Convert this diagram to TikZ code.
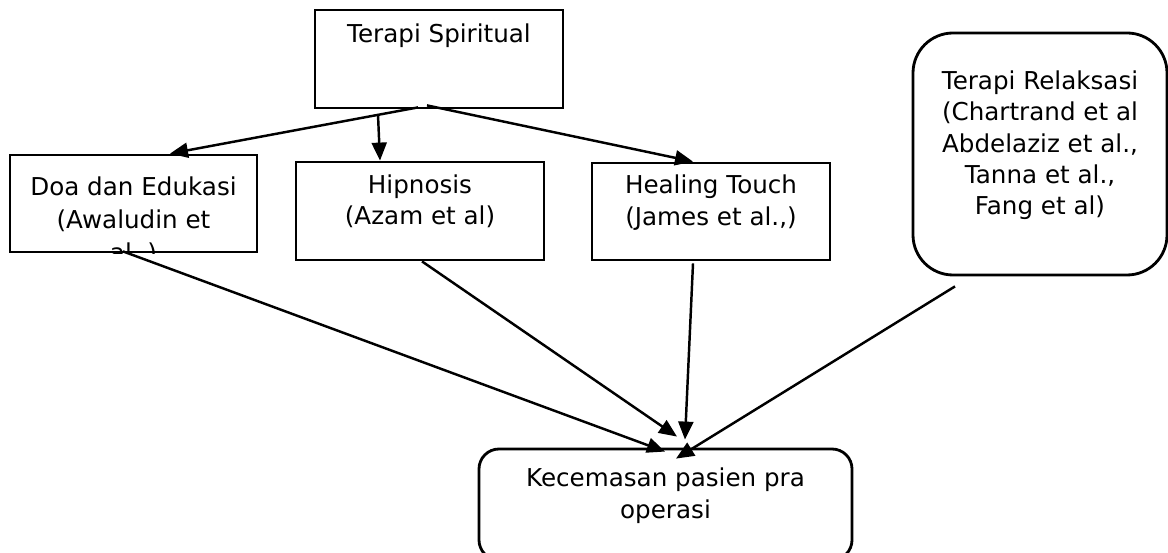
\documentclass[tikz,border=0pt]{standalone}
\usepackage{fontspec}
\setmainfont{DejaVu Sans}
\usepackage{tikz}
\usetikzlibrary{positioning,arrows.meta,shapes}
\tikzset {
    style A/.style={
        draw=black,
        line width=1.6pt,
        rectangle, % Set the shape as a rectangle
        align=center,
        text depth=0.45cm,
    },
    style B/.style={
        draw=black,
        line width=1.6pt,
        rectangle, % Set the shape as a rectangle
        rounded corners=.8cm,
        align=center,
        text depth=0.45cm,
    },
    style C/.style={
        draw=black,
        line width=1.6pt,
        rectangle, % Set the shape as a rectangle
        rounded corners=.4cm,
        align=center,
        text depth=0.45cm,
    },
    link/.style={
        line width=1.4pt,
        -{Triangle[length=0.36cm,width=0.3cm]},
    },
}

\begin{document}
\begin{tikzpicture}
        [font=\fontsize{14}{17.8}\selectfont]

        \clip (0,0) rectangle (23.36,11.06);

        \node[style A, minimum width=4.96cm, minimum height=1.96cm,
              label={[anchor=north, yshift=-0.18cm, name=spiritualtext]north:Terapi Spiritual}]
              at (8.78,9.88) (spiritual) {};

        \node[style A, minimum width=4.94cm, minimum height=1.94cm] at (2.67,6.99) (doa) {};
        \begin{scope}
            \clip (doa.south west) rectangle (doa.north east);
            \node[anchor=north, align=center, font=\fontsize{14}{18.8}\selectfont]
                at ([yshift=-0.34cm]doa.north) (doatext)
                {Doa dan Edukasi\\(Awaludin et\\al.,)};
        \end{scope}

        \node[style A, minimum width=4.96cm, minimum height=1.96cm] at (8.40,6.84) (hipnosis)
            {Hipnosis\\(Azam et al)};
        \node[style A, minimum width=4.76cm, minimum height=1.94cm] at (14.22,6.83) (healing)
            {Healing Touch\\(James et al.,)};
        \node[style B, minimum width=5.08cm, minimum height=4.84cm] at (20.80,7.98) (relaksasi)
            {Terapi Relaksasi\\(Chartrand et al\\Abdelaziz et al.,\\Tanna et al.,\\Fang et al)};
        \node[style C, minimum width=7.46cm, minimum height=2.22cm] at (13.31,0.97) (kecemasan)
            {Kecemasan pasien pra\\operasi};

        \draw[link] ([xshift=-0.42cm,yshift=0.04cm]spiritual.south) -- ([xshift=0.73cm]doa.north);
        \draw[link] ([xshift=-1.22cm,yshift=-0.11cm]spiritual.south) -- ([xshift=-0.80cm]hipnosis.north);
        \draw[link] ([xshift=-0.24cm,yshift=0.08cm]spiritual.south) -- ([xshift=-0.36cm]healing.north);

        \draw[link] ([xshift=-0.21cm,yshift=0.04cm]doa.south) -- ([xshift=-0.01cm,yshift=-0.08cm]kecemasan.north);
        \draw[link] ([xshift=0.04cm]hipnosis.south) -- ([xshift=0.23cm,yshift=0.22cm]kecemasan.north);
        \draw[link] ([xshift=-0.36cm,yshift=-0.04cm]healing.south) -- ([xshift=0.39cm,yshift=0.16cm]kecemasan.north);
        \draw[link] ([xshift=-1.70cm,yshift=-0.20cm]relaksasi.south) -- ([xshift=0.21cm,yshift=-0.22cm]kecemasan.north);
    \end{tikzpicture}
\end{document}
